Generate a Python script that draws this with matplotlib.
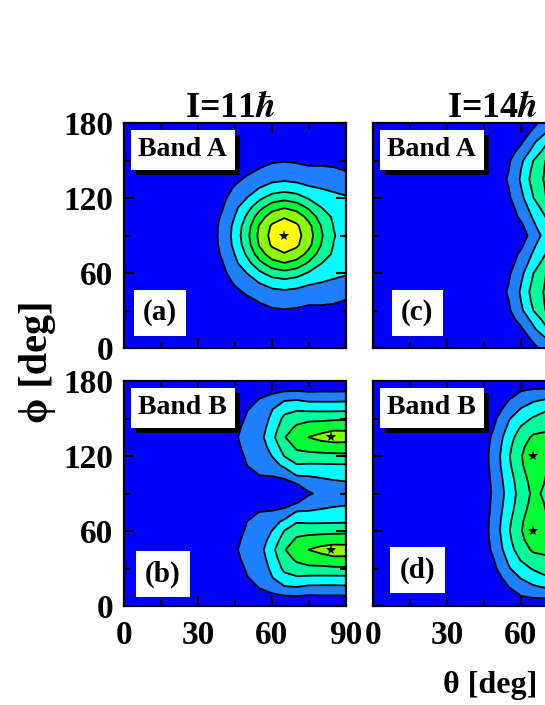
import matplotlib.pyplot as plt
import matplotlib.patheffects as pe
from matplotlib.ticker import MultipleLocator

plt.rcParams["font.family"] = ["Liberation Serif", "DejaVu Serif"]
plt.rcParams["font.weight"] = "bold"
plt.rcParams["mathtext.fontset"] = "stix"

# grid of the contour maps (deg)
THETA = [0, 30, 35, 40, 45, 50, 55, 60, 65, 70, 75, 80, 85, 90]
PHI = [0, 7.5, 15, 22.5, 30, 37.5, 45, 52.5, 60, 67.5, 75, 82.5, 90,
       97.5, 105, 112.5, 120, 127.5, 135, 142.5, 150, 157.5, 165, 172.5, 180]

# values for phi = 0 ... 90 (rows) and THETA (columns);
# every map is mirror symmetric about phi = 90
HALF_A = [
    [0, 0, 0, 0, 0, 0, 0, 0.02, 0.03, 0.02, 0, 0, 0, 0],
    [0, 0, 0, 0, 0.01, 0.05, 0.09, 0.11, 0.12, 0.11, 0.09, 0.08, 0.05, 0.03],
    [0, 0, 0, 0.03, 0.09, 0.14, 0.24, 0.30, 0.32, 0.30, 0.26, 0.22, 0.18, 0.15],
    [0, 0, 0.03, 0.11, 0.20, 0.33, 0.46, 0.56, 0.60, 0.56, 0.50, 0.45, 0.40, 0.35],
    [0, 0.01, 0.10, 0.21, 0.36, 0.58, 0.75, 0.90, 0.95, 0.90, 0.80, 0.80, 0.75, 0.65],
    [0, 0.07, 0.17, 0.33, 0.55, 0.79, 1.05, 1.25, 1.32, 1.25, 1.15, 1.15, 1.10, 0.95],
    [0, 0.12, 0.27, 0.47, 0.81, 1.15, 1.50, 1.75, 1.85, 1.75, 1.60, 1.55, 1.45, 1.30],
    [0, 0.19, 0.36, 0.63, 1.11, 1.59, 2.05, 2.47, 2.63, 2.47, 2.15, 2.00, 1.85, 1.70],
    [0, 0.27, 0.42, 0.78, 1.45, 2.03, 2.81, 3.44, 3.69, 3.44, 2.89, 2.50, 2.25, 2.10],
    [0, 0.34, 0.50, 0.96, 1.77, 2.65, 3.70, 4.57, 4.92, 4.58, 3.80, 3.00, 2.60, 2.40],
    [0, 0.39, 0.58, 1.12, 2.03, 3.19, 4.53, 5.53, 5.92, 5.56, 4.66, 3.52, 2.85, 2.55],
    [0, 0.43, 0.63, 1.22, 2.28, 3.60, 5.11, 6.14, 6.47, 6.17, 5.25, 3.97, 2.97, 2.63],
    [0, 0.44, 0.65, 1.25, 2.37, 3.75, 5.29, 6.32, 6.70, 6.35, 5.44, 4.12, 3.05, 2.67],
]

HALF_B = [
    [0, 0, 0, 0, 0, 0, 0.05, 0.1, 0.1, 0.1, 0.1, 0.1, 0.1, 0.1],
    [0, 0, 0, 0.05, 0.1, 0.32, 0.62, 0.78, 0.89, 0.94, 0.85, 0.88, 0.88, 0.89],
    [0, 0, 0.02, 0.1, 0.25, 0.65, 1.05, 1.38, 1.9, 1.97, 1.8, 1.8, 1.8, 1.82],
    [0, 0, 0.05, 0.2, 0.4, 0.97, 1.2, 1.95, 2.69, 2.85, 2.76, 2.74, 2.74, 2.76],
    [0, 0, 0.1, 0.28, 0.6, 1.11, 1.35, 2.22, 3.22, 3.66, 3.78, 3.78, 3.82, 3.84],
    [0, 0, 0.13, 0.35, 0.8, 1.23, 1.5, 2.46, 3.58, 4.17, 4.45, 4.57, 4.79, 4.8],
    [0, 0, 0.15, 0.4, 0.88, 1.35, 1.65, 2.7, 3.95, 4.5, 5.02, 5.3, 5.5, 5.45],
    [0, 0, 0.13, 0.35, 0.8, 1.24, 1.49, 2.36, 3.49, 4.17, 4.4, 4.53, 4.59, 4.6],
    [0, 0, 0.1, 0.3, 0.65, 1.13, 1.33, 2.02, 3.03, 3.7, 3.7, 3.71, 3.75, 3.77],
    [0, 0, 0.05, 0.2, 0.5, 1.01, 1.17, 1.55, 2.23, 2.9, 2.85, 2.86, 2.88, 2.9],
    [0, 0, 0.02, 0.12, 0.35, 0.73, 1.02, 1.06, 1.23, 2.1, 2.1, 2.18, 2.25, 2.3],
    [0, 0, 0, 0.05, 0.2, 0.46, 0.61, 0.68, 0.71, 0.96, 1.46, 1.66, 1.81, 1.88],
    [0, 0, 0, 0, 0.05, 0.1, 0.2, 0.3, 0.35, 0.3, 0.9, 1.2, 1.5, 1.6],
]

HALF_C = [
    [0, 0, 0, 0, 0, 0, 0.2, 0.45, 0.8, 1.3, 2.2, 2.6, 2.8, 2.8],
    [0, 0, 0, 0, 0, 0.02, 0.25, 0.6, 1.15, 1.95, 2.75, 3.2, 3.3, 3.3],
    [0, 0, 0, 0, 0, 0.05, 0.35, 0.85, 1.8, 2.8, 3.4, 3.7, 3.8, 3.8],
    [0, 0, 0, 0, 0, 0.15, 0.6, 1.3, 2.3, 3.35, 4.05, 4.3, 4.35, 4.35],
    [0, 0, 0, 0, 0, 0.3, 0.86, 1.79, 3.0, 4.02, 4.25, 4.45, 4.48, 4.5],
    [0, 0, 0, 0, 0.02, 0.45, 0.98, 2.0, 3.25, 4.1, 4.38, 4.5, 4.55, 4.55],
    [0, 0, 0, 0, 0.05, 0.55, 1.1, 2.12, 3.43, 4.14, 4.45, 4.53, 4.6, 4.6],
    [0, 0, 0, 0, 0.02, 0.45, 0.98, 1.95, 3.2, 4.05, 4.33, 4.45, 4.52, 4.53],
    [0, 0, 0, 0, 0, 0.3, 0.86, 1.72, 2.98, 3.98, 4.2, 4.35, 4.42, 4.45],
    [0, 0, 0, 0, 0, 0.2, 0.6, 1.45, 2.45, 3.5, 3.95, 4.15, 4.22, 4.22],
    [0, 0, 0, 0, 0, 0.1, 0.45, 1.2, 2.12, 3.02, 3.55, 3.85, 3.95, 3.95],
    [0, 0, 0, 0, 0, 0.05, 0.3, 0.8, 1.8, 2.7, 3.3, 3.6, 3.75, 3.75],
    [0, 0, 0, 0, 0, 0, 0.2, 0.55, 1.4, 2.4, 3.2, 3.5, 3.65, 3.7],
]

HALF_D = [
    [0, 0, 0, 0, 0, 0, 0.1, 0.3, 0.35, 0.35, 0.4, 0.4, 0.4, 0.4],
    [0, 0, 0, 0, 0, 0.1, 0.5, 0.95, 1.1, 1.15, 1.2, 1.2, 1.2, 1.2],
    [0, 0, 0, 0, 0, 0.35, 0.98, 1.5, 1.85, 2.05, 2.15, 2.2, 2.2, 2.2],
    [0, 0, 0, 0, 0.15, 0.65, 1.4, 2.05, 2.5, 2.85, 2.9, 2.9, 2.9, 2.9],
    [0, 0, 0, 0, 0.3, 0.98, 1.9, 2.6, 3.1, 3.45, 3.5, 3.55, 3.55, 3.55],
    [0, 0, 0, 0.05, 0.4, 1.15, 2.2, 3.1, 3.65, 3.85, 3.9, 3.9, 3.9, 3.9],
    [0, 0, 0, 0.1, 0.55, 1.4, 2.55, 3.55, 4.15, 4.2, 4.15, 4.1, 4.1, 4.1],
    [0, 0, 0, 0.18, 0.62, 1.5, 2.75, 3.8, 4.45, 4.45, 4.35, 4.3, 4.3, 4.3],
    [0, 0, 0, 0.2, 0.65, 1.6, 2.9, 3.95, 4.6, 4.5, 4.35, 4.3, 4.3, 4.3],
    [0, 0, 0, 0.18, 0.62, 1.58, 2.8, 3.88, 4.55, 4.35, 4.2, 4.15, 4.15, 4.15],
    [0, 0, 0, 0.15, 0.55, 1.5, 2.6, 3.7, 4.45, 4.01, 3.98, 3.95, 3.95, 3.95],
    [0, 0, 0, 0.12, 0.5, 1.45, 2.45, 3.55, 4.3, 3.95, 3.85, 3.85, 3.85, 3.85],
    [0, 0, 0, 0.1, 0.45, 1.4, 2.35, 3.45, 4.2, 3.85, 3.75, 3.75, 3.8, 3.8],
]

# maxima marked with stars (theta, phi)
STARS_A = ([65], [90])
STARS_B = ([84, 84], [45, 135])
STARS_C = ([], [])
STARS_D = ([65, 65], [60, 120])

LEVELS = [-1, 1, 2, 3, 4, 5, 6, 8]
COLORS = ["#0000ff", "#1e7fff", "#00ffff", "#00ff99", "#00ff33", "#88ff00", "#ffff00"]

W, H = 545, 705
fig = plt.figure(figsize=(W / 100, H / 100), dpi=100)


def px_axes(x0, y0, x1, y1):
    return fig.add_axes([x0 / W, 1 - y1 / H, (x1 - x0) / W, (y1 - y0) / H])


def full_map(half):
    # add the mirrored upper half (phi > 90)
    return half + half[-2::-1]


panels = [
    # half map, stars, band, letter, axes box in px, letter pos, x labels, y labels
    (HALF_A, STARS_A, "Band A", "(a)", (124, 123, 346, 348), (0.162, 0.156), False, True),
    (HALF_B, STARS_B, "Band B", "(b)", (124, 381, 346, 606), (0.176, 0.142), True, True),
    (HALF_C, STARS_C, "Band A", "(c)", (373, 123, 595, 348), (0.20, 0.156), False, False),
    (HALF_D, STARS_D, "Band B", "(d)", (373, 381, 595, 606), (0.20, 0.16), True, False),
]

for half, stars, band, letter, box, lpos, xlab, ylab in panels:
    ax = px_axes(*box)
    z = full_map(half)
    ax.contourf(THETA, PHI, z, levels=LEVELS, colors=COLORS)
    ax.contour(THETA, PHI, z, levels=LEVELS[1:-1], colors="k", linewidths=1.3)
    ax.plot(stars[0], stars[1], "k*", ms=8, mew=0)
    ax.set_xlim(0, 90)
    ax.set_ylim(0, 180)
    ax.xaxis.set_major_locator(MultipleLocator(30))
    ax.xaxis.set_minor_locator(MultipleLocator(15))
    ax.yaxis.set_major_locator(MultipleLocator(60))
    ax.yaxis.set_minor_locator(MultipleLocator(30))
    ax.tick_params(which="both", direction="in", top=True, right=True, width=1.5,
                   labelsize=24, labelbottom=xlab, labelleft=ylab)
    ax.tick_params(axis="x", which="major", length=7, pad=10)
    ax.tick_params(axis="y", which="major", length=7, pad=8)
    ax.tick_params(which="minor", length=4.5)
    if xlab and not ylab:
        # the right column is cut by the figure edge
        ax.set_xticks([0, 30, 60, 90], ["0", "30", "60", ""])
    for s in ax.spines.values():
        s.set_linewidth(1.6)

    t = ax.text(0.265, 0.88, band, transform=ax.transAxes, fontsize=20,
                ha="center", va="center", zorder=5,
                bbox=dict(boxstyle="square,pad=0.28", fc="white", ec="none"))
    t.get_bbox_patch().set_path_effects([
        pe.SimplePatchShadow(offset=(3.6, -3.6), shadow_rgbFace="black", alpha=1.0),
        pe.Normal()])
    ax.text(lpos[0], lpos[1], letter, transform=ax.transAxes, fontsize=21,
            ha="center", va="center", zorder=5,
            bbox=dict(boxstyle="square,pad=0.32", fc="white", ec="none"))

fig.text(230 / W, 1 - 117 / H, "I=11$\\hbar$", fontsize=26, ha="center", va="baseline")
fig.text(492 / W, 1 - 117 / H, "I=14$\\hbar$", fontsize=26, ha="center", va="baseline")

fig.text(37 / W, 1 - 362 / H, "\u03d5 [deg]", fontsize=29, rotation=90,
         ha="center", va="center")
fig.text(490 / W, 1 - 685 / H, "\u03b8 [deg]", fontsize=23, ha="center", va="center")

fig.savefig("out.png", dpi=100)
